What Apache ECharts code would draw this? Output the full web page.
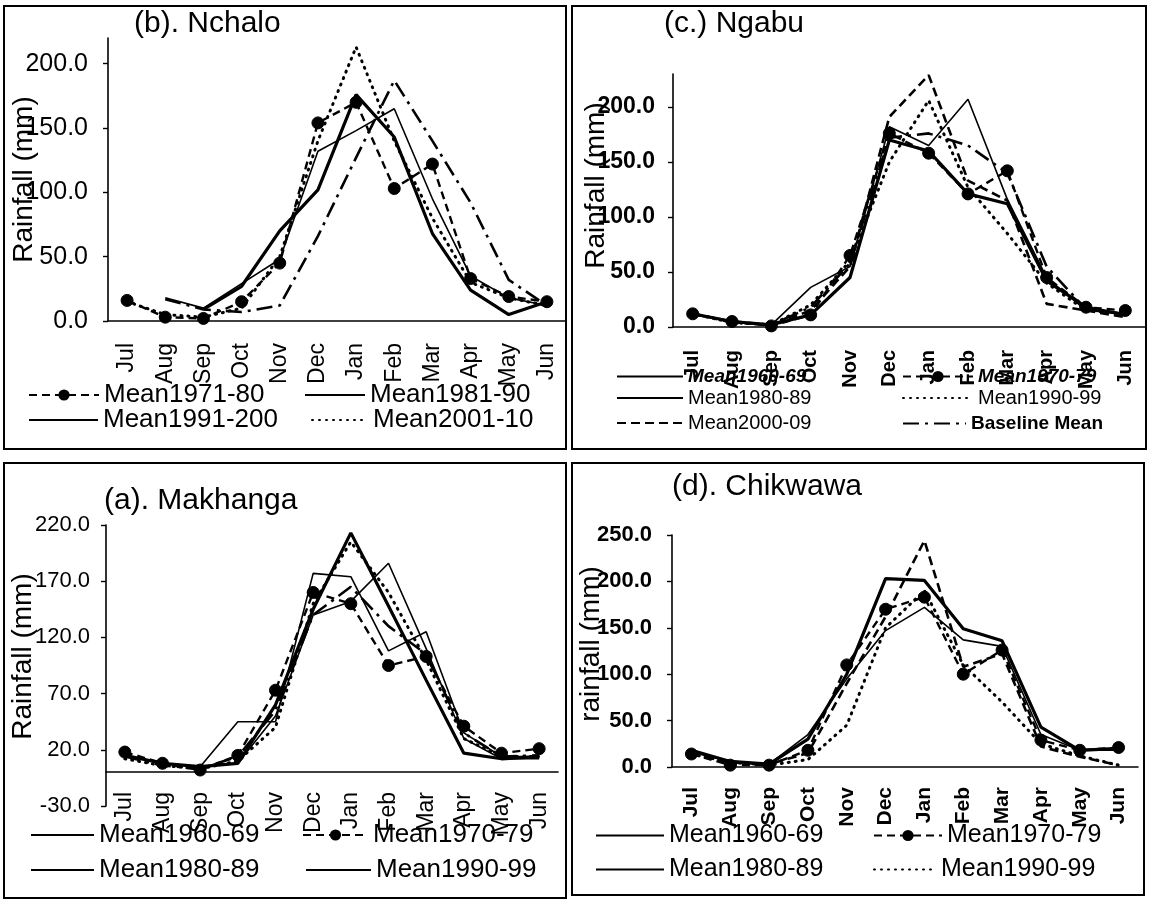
<!DOCTYPE html>
<html>
<head>
<meta charset="utf-8">
<script src="https://cdn.jsdelivr.net/npm/echarts/dist/echarts.min.js"></script>
<style>
html,body{margin:0;padding:0;background:#fff;}
#chart{width:1151px;height:902px;}
</style>
</head>
<body>
<div id="chart"></div>
<script>
// ---------------- DATA ----------------
const months = ['Jul','Aug','Sep','Oct','Nov','Dec','Jan','Feb','Mar','Apr','May','Jun'];

// (b). Nchalo
const nchalo1971_80   = [16, 3, 2, 15, 45, 154, 170, 103, 122, 33, 19, 15];
const nchalo1981_90   = [null, 18, 10, 29, 48, 132, 148, 165, 95, 35, 18, 12];
const nchalo1991_2000 = [null, null, 9, 27, 70, 102, 176, 143, 68, 24, 5, 15];
const nchalo2001_10   = [15, 5, 3, 10, 50, 140, 213, 140, 80, 30, 18, 12];
const nchaloBaseline  = [null, 17, 9, 7, 12, 66, 127, 187, 140, 92, 32, 12];
const nchaloTicks     = [0, 50, 100, 150, 200];

// (c.) Ngabu
const ngabu1960_69 = [12, 5, 2, 11, 45, 170, 160, 121, 112, 42, 18, 11];
const ngabu1970_79 = [12, 5, 1, 11, 65, 176, 158, 121, 142, 45, 18, 15];
const ngabu1980_89 = [12, 5, 2, 36, 55, 182, 165, 207, 116, 45, 15, 12];
const ngabu1990_99 = [12, 4, 2, 20, 60, 150, 206, 127, 85, 40, 15, 12];
const ngabu2000_09 = [12, 5, 2, 15, 55, 191, 229, 133, 115, 21, 15, 9];
const ngabuBaseline = [12, 4, 2, 18, 58, 172, 176, 165, 140, 55, 16, 12];
const ngabuTicks   = [0, 50, 100, 150, 200];

// (a). Makhanga
const mak1960_69 = [15, 8, 5, 45, 45, 177, 174, 108, 125, 35, 14, 14];
const mak1970_79 = [18, 8, 2, 15, 73, 160, 150, 95, 103, 41, 17, 21];
const mak1980_89 = [15, 8, 5, 8, 50, 140, 152, 186, 110, 30, 12, 12];
const mak1990_99 = [15, 8, 5, 8, 60, 145, 213, 148, 82, 17, 12, 14];
const mak2000_09 = [12, 6, 3, 10, 40, 150, 205, 160, 100, 30, 14, 14];
const makBaseline = [14, 6, 3, 14, 55, 140, 165, 130, 105, 35, 14, 15];
const makTicks   = [-30, 20, 70, 120, 170, 220];

// (d). Chikwawa
const chik1960_69 = [18, 6, 3, 30, 100, 203, 201, 149, 136, 43, 18, 20];
const chik1970_79 = [14, 2, 2, 18, 110, 170, 183, 100, 126, 29, 18, 21];
const chik1980_89 = [16, 6, 3, 35, 95, 147, 172, 137, 130, 35, 18, 18];
const chik1990_99 = [14, 5, 2, 8, 45, 150, 190, 110, 70, 25, 12, 2];
const chik2000_09 = [14, 5, 3, 15, 90, 162, 244, 108, 122, 22, 11, 2];
const chikTicks   = [0, 50, 100, 150, 200, 250];

// ---------------- LAYOUT / STYLE ----------------
const FONT = 'Liberation Sans, Arial, Helvetica, sans-serif';
const STYLES = {
  thick:   { width: 3.2, type: 'solid' },
  thin:    { width: 1.6, type: 'solid' },
  dashed:  { width: 2.6, type: [9, 5] },
  dotted:  { width: 3, type: [1, 6], cap: 'round' },
  dashdot: { width: 2.6, type: [16, 6, 3, 6] },
  dashMarker: { width: 2.4, type: [8, 5], marker: true }
};

// panel order: 0=b (Nchalo), 1=c (Ngabu), 2=a (Makhanga), 3=d (Chikwawa)
const seriesDefs = [
  [0, 'Mean1981-90', nchalo1981_90, 'thin'],
  [0, 'Mean1991-200', nchalo1991_2000, 'thick'],
  [0, 'Mean2001-10', nchalo2001_10, 'dotted'],
  [0, 'Baseline Mean', nchaloBaseline, 'dashdot'],
  [0, 'Mean1971-80', nchalo1971_80, 'dashMarker'],

  [1, 'Mean1960-69', ngabu1960_69, 'thick'],
  [1, 'Mean1980-89', ngabu1980_89, 'thin'],
  [1, 'Mean1990-99', ngabu1990_99, 'dotted'],
  [1, 'Mean2000-09', ngabu2000_09, 'dashed'],
  [1, 'Baseline Mean', ngabuBaseline, 'dashdot'],
  [1, 'Mean1970-79', ngabu1970_79, 'dashMarker'],

  [2, 'Mean1960-69', mak1960_69, 'thin'],
  [2, 'Mean1980-89', mak1980_89, 'thin'],
  [2, 'Mean1990-99', mak1990_99, 'thick'],
  [2, 'Mean2000-09', mak2000_09, 'dotted'],
  [2, 'Baseline Mean', makBaseline, 'dashdot'],
  [2, 'Mean1970-79', mak1970_79, 'dashMarker'],

  [3, 'Mean1960-69', chik1960_69, 'thick'],
  [3, 'Mean1980-89', chik1980_89, 'thin'],
  [3, 'Mean1990-99', chik1990_99, 'dotted'],
  [3, 'Mean2000-09', chik2000_09, 'dashed'],
  [3, 'Mean1970-79', chik1970_79, 'dashMarker']
];

const grids = [
  { left: 108, top: 38, width: 458, height: 283 },
  { left: 673, top: 74, width: 472, height: 253 },
  { left: 106, top: 525, width: 452, height: 281 },
  { left: 672, top: 535, width: 466, height: 232 },
  // overlay for (a): its bottom sits on the zero line of panel (a), carries the month axis
  { left: 106, top: 525, width: 452, height: 247 }
];

const yCfg = [
  { min: 0, max: 220, ticks: nchaloTicks, name: 'Rainfall (mm)', font: 25, bold: 'normal', gap: 70, margin: 20, shift: 0 },
  { min: 0, max: 230, ticks: ngabuTicks, name: 'Rainfall (mm)', font: 23, bold: 'bold', gap: 63, margin: 18, shift: 30 },
  { min: -30, max: 220, ticks: makTicks, name: 'Rainfall (mm)', font: 22, bold: 'normal', gap: 69, margin: 16, shift: 18 },
  { min: 0, max: 250, ticks: chikTicks, name: 'rainfall (mm)', font: 22, bold: 'bold', gap: 67, margin: 20, shift: 14 }
];
const xCfg = [
  { font: 23, bold: 'normal', margin: 22 },
  { font: 20, bold: 'bold', margin: 23 },
  { font: 23, bold: 'normal', margin: 20 },
  { font: 21, bold: 'bold', margin: 20 }
];

const titles = [
  { text: '(b). Nchalo', left: 134, top: 9 },
  { text: '(c.) Ngabu', left: 664, top: 9 },
  { text: '(a). Makhanga', left: 104, top: 486 },
  { text: '(d). Chikwawa', left: 672, top: 472 }
];

// legend items: [panel, name, x, yCenter, symbolWidth, fontSize, weight, style]
const legendItems = [
  [0, 'Mean1971-80', 28, 398, 70, 26, 'normal', 'normal'],
  [0, 'Mean1981-90', 304, 398, 60, 26, 'normal', 'normal'],
  [0, 'Mean1991-200', 28, 423, 69, 26, 'normal', 'normal'],
  [0, 'Mean2001-10', 311, 423, 56, 26, 'normal', 'normal'],

  [1, 'Mean1960-69', 616, 378, 66, 19, 'bold', 'italic'],
  [1, 'Mean1970-79', 902, 378, 70, 19, 'bold', 'italic'],
  [1, 'Mean1980-89', 616, 400, 66, 20, 'normal', 'normal'],
  [1, 'Mean1990-99', 902, 400, 70, 20, 'normal', 'normal'],
  [1, 'Mean2000-09', 616, 425, 66, 20, 'normal', 'normal'],
  [1, 'Baseline Mean', 902, 425, 63, 19, 'bold', 'normal'],

  [2, 'Mean1960-69', 30, 838, 63, 26, 'normal', 'normal'],
  [2, 'Mean1970-79', 302, 838, 65, 26, 'normal', 'normal'],
  [2, 'Mean1980-89', 30, 873, 63, 26, 'normal', 'normal'],
  [2, 'Mean1990-99', 305, 873, 65, 26, 'normal', 'normal'],

  [3, 'Mean1960-69', 595, 838, 68, 25, 'normal', 'normal'],
  [3, 'Mean1970-79', 873, 838, 68, 25, 'normal', 'normal'],
  [3, 'Mean1980-89', 595, 872, 68, 25, 'normal', 'normal'],
  [3, 'Mean1990-99', 873, 872, 62, 25, 'normal', 'normal']
];

const frames = [
  { x: 4, y: 6, width: 562, height: 443 },
  { x: 572, y: 6, width: 574, height: 443 },
  { x: 4, y: 463, width: 562, height: 435 },
  { x: 572, y: 463, width: 572, height: 432 }
];

// ---------------- BUILD OPTION ----------------
const keyOf = (p, n) => n + '#' + p;
const styleByKey = {};

const series = seriesDefs.map(([p, name, data, sk]) => {
  const st = STYLES[sk];
  styleByKey[keyOf(p, name)] = st;
  return {
    type: 'line',
    name: keyOf(p, name),
    xAxisIndex: p,
    yAxisIndex: p,
    data: data,
    connectNulls: false,
    symbol: st.marker ? 'circle' : 'none',
    symbolSize: 12,
    showAllSymbol: true,
    silent: true,
    z: st.marker ? 5 : 3,
    lineStyle: { color: '#000', width: st.width, type: st.type, cap: st.cap || 'butt' },
    itemStyle: { color: '#000', borderColor: '#000' },
    emphasis: { disabled: true }
  };
});

function monthAxis(gridIndex, cfg, visible) {
  return {
    type: 'category',
    gridIndex: gridIndex,
    data: months,
    boundaryGap: true,
    axisLine: { show: visible, onZero: false, lineStyle: { color: '#000', width: 1.6 } },
    axisTick: { show: false },
    axisLabel: {
      show: visible, interval: 0, rotate: 90, margin: cfg.margin, color: '#000',
      fontSize: cfg.font, fontWeight: cfg.bold, fontFamily: FONT
    },
    splitLine: { show: false }
  };
}

const xAxis = [
  monthAxis(0, xCfg[0], true),
  monthAxis(1, xCfg[1], true),
  monthAxis(2, xCfg[2], false),
  monthAxis(3, xCfg[3], true),
  monthAxis(4, xCfg[2], true)
];

const yAxis = yCfg.map((c, i) => ({
  type: 'value',
  gridIndex: i,
  min: c.min,
  max: c.max,
  interval: 50,
  name: c.name,
  nameLocation: 'middle',
  nameGap: c.gap,
  nameMoveOverlap: false,
  nameTextStyle: { color: '#000', fontSize: 28, fontFamily: FONT, padding: [0, 0, 0, c.shift] },
  axisLine: { show: true, lineStyle: { color: '#000', width: 1.6 } },
  axisTick: { show: true, length: 5, customValues: c.ticks, lineStyle: { color: '#000', width: 1.4 } },
  axisLabel: {
    customValues: c.ticks,
    margin: c.margin, color: '#000', fontSize: c.font, fontWeight: c.bold, fontFamily: FONT,
    formatter: v => Number(v).toFixed(1)
  },
  splitLine: { show: false }
}));
yAxis.push({ type: 'value', gridIndex: 4, show: false, min: 0, max: 220 });

const legend = legendItems.map(([p, name, x, yc, w, fs, fw, fst]) => {
  const key = keyOf(p, name);
  const st = styleByKey[key];
  return {
    data: [key],
    left: x,
    top: yc - Math.round(fs * 0.6),
    padding: 0,
    itemWidth: w,
    itemHeight: 14,
    selectedMode: false,
    formatter: n => n.split('#')[0],
    itemStyle: st && st.marker ? { opacity: 1 } : { opacity: 0 },
    textStyle: { color: '#000', fontSize: fs, fontWeight: fw, fontStyle: fst, fontFamily: FONT }
  };
});

const title = titles.map(t => ({
  text: t.text, left: t.left, top: t.top, padding: 0,
  textStyle: { color: '#000', fontSize: 30, fontWeight: 'normal', fontFamily: FONT }
}));

const graphic = frames.map(f => ({
  type: 'rect',
  shape: { x: f.x, y: f.y, width: f.width, height: f.height },
  style: { fill: 'none', stroke: '#000', lineWidth: 2 },
  silent: true,
  z: -1
}));

const chart = echarts.init(document.getElementById('chart'), null, { renderer: 'canvas' });
chart.setOption({
  animation: false,
  backgroundColor: '#fff',
  title: title,
  legend: legend,
  grid: grids,
  xAxis: xAxis,
  yAxis: yAxis,
  series: series,
  graphic: graphic
});
</script>
</body>
</html>
